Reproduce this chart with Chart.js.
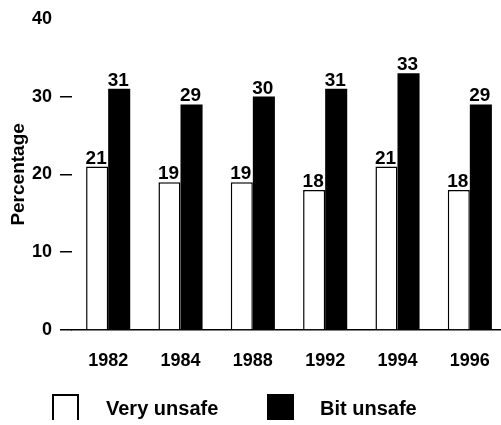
<!DOCTYPE html>
<html>
<head>
<meta charset="utf-8">
<script src="https://cdn.jsdelivr.net/npm/chart.js@4"></script>
<style>
  html, body { margin: 0; padding: 0; background: #fff; overflow: hidden; }
  #wrap { position: relative; width: 506px; height: 425px; }
  #legend { position: absolute; left: 0; top: 0; width: 501px; height: 425px; pointer-events: none;
            font-family: "Liberation Sans", Arial, sans-serif; color: #000; }
  .box { position: absolute; box-sizing: border-box; }
  .lab { position: absolute; font-size: 20px; font-weight: bold; line-height: 24px; white-space: nowrap; }
</style>
</head>
<body>
<div id="wrap">
  <canvas id="c" width="506" height="425"></canvas>
  <div id="legend"></div>
</div>
<script>
const years = ["1982", "1984", "1988", "1992", "1994", "1996"];
const veryUnsafe = [21, 19, 19, 18, 21, 18];
const bitUnsafe = [31, 29, 30, 31, 33, 29];
const seriesNames = ["Very unsafe", "Bit unsafe"];
const yTicks = [0, 10, 20, 30, 40];

const FONT = '"Liberation Sans", Arial, sans-serif';

const valueLabels = {
  id: 'valueLabels',
  afterDatasetsDraw(chart) {
    const ctx = chart.ctx;
    ctx.save();
    ctx.fillStyle = '#000';
    ctx.font = 'bold 19px ' + FONT;
    ctx.textAlign = 'center';
    ctx.textBaseline = 'alphabetic';
    chart.data.datasets.forEach((ds, i) => {
      const meta = chart.getDatasetMeta(i);
      meta.data.forEach((bar, j) => {
        ctx.fillText(String(ds.data[j]), bar.x - 1, bar.y - 3);
      });
    });
    ctx.restore();
  }
};

new Chart(document.getElementById('c'), {
  type: 'bar',
  data: {
    labels: years,
    datasets: [
      {
        label: seriesNames[0],
        data: veryUnsafe,
        backgroundColor: '#ffffff',
        borderColor: '#000000',
        borderWidth: 1.5,
        borderSkipped: 'start',
        categoryPercentage: 0.61,
        barPercentage: 1.0
      },
      {
        label: seriesNames[1],
        data: bitUnsafe,
        backgroundColor: '#000000',
        borderWidth: 0,
        categoryPercentage: 0.61,
        barPercentage: 1.0
      }
    ]
  },
  options: {
    responsive: false,
    animation: false,
    devicePixelRatio: 1,
    layout: { padding: { top: 16, left: 0, right: 0, bottom: 0 } },
    plugins: {
      legend: { display: false },
      tooltip: { enabled: false }
    },
    scales: {
      x: {
        grid: { display: false },
        border: { display: true, color: '#000', width: 1.5 },
        ticks: { color: '#000', font: { family: FONT, size: 18, weight: 'bold' }, padding: 12, maxRotation: 0 },
        afterFit(scale) { scale.height = 95; }
      },
      y: {
        min: 0,
        max: 40,
        afterBuildTicks(scale) { scale.ticks = yTicks.map(v => ({ value: v })); },
        grid: {
          drawOnChartArea: false,
          drawTicks: true,
          tickLength: 12,
          lineWidth: 1.5,
          color: (c) => (c.tick && c.tick.value === 40) ? 'rgba(0,0,0,0)' : '#000'
        },
        border: { display: false },
        ticks: { color: '#000', font: { family: FONT, size: 18, weight: 'bold' }, padding: 8 },
        title: {
          display: true,
          text: 'Percentage',
          color: '#000',
          font: { family: FONT, size: 19, weight: 'bold' },
          padding: { top: 7, bottom: 0 }
        },
        afterFit(scale) { scale.width = 72; }
      }
    }
  },
  plugins: [valueLabels]
});

// Legend
const legend = document.getElementById('legend');
const items = [
  { name: seriesNames[0], boxLeft: 52, textLeft: 106, fill: '#fff' },
  { name: seriesNames[1], boxLeft: 267, textLeft: 320, fill: '#000' }
];
items.forEach(it => {
  const b = document.createElement('div');
  b.className = 'box';
  b.style.left = it.boxLeft + 'px';
  b.style.top = '394px';
  b.style.width = '27px';
  b.style.height = '26px';
  b.style.background = it.fill;
  b.style.border = it.fill === '#fff' ? '2px solid #000' : 'none';
  if (it.fill === '#fff') b.style.borderBottom = 'none';
  legend.appendChild(b);
  const t = document.createElement('div');
  t.className = 'lab';
  t.style.left = it.textLeft + 'px';
  t.style.top = '396px';
  t.textContent = it.name;
  legend.appendChild(t);
});
</script>
</body>
</html>
